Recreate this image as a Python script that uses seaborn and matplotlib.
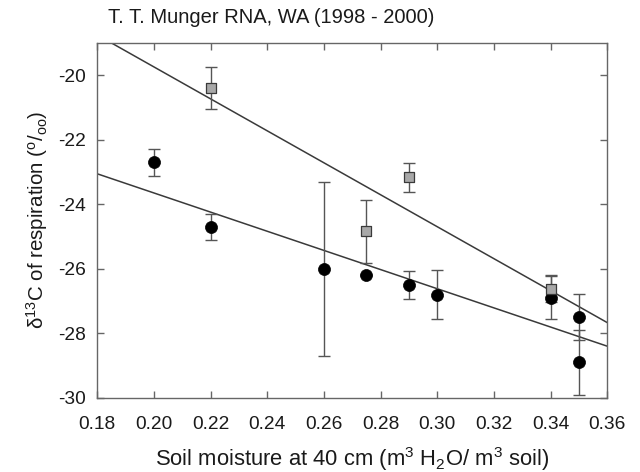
import numpy as np
import pandas as pd
import matplotlib
matplotlib.use('Agg')
import matplotlib.pyplot as plt
import seaborn as sns

# soil-respired d13C vs soil moisture, T. T. Munger RNA
circ_x = [0.20, 0.22, 0.26, 0.275, 0.29, 0.30, 0.34, 0.35, 0.35]
circ_y = [-22.7, -24.7, -26.0, -26.2, -26.5, -26.8, -26.9, -27.5, -28.9]
circ_err = [0.42, 0.40, 2.7, 0.0, 0.43, 0.75, 0.67, 0.72, 1.0]

sq_x = [0.22, 0.275, 0.29, 0.34]
sq_y = [-20.4, -24.84, -23.17, -26.62]
sq_err = [0.65, 0.98, 0.46, 0.42]

# fitted lines (end points)
fit_x = [0.18, 0.36]
fit_upper = [-18.76, -27.67]
fit_lower = [-23.06, -28.40]

sns.set_style('ticks')
plt.rcParams['font.family'] = ['Liberation Sans', 'DejaVu Sans']
plt.rcParams['mathtext.fontset'] = 'custom'
plt.rcParams['mathtext.rm'] = 'Liberation Sans'
plt.rcParams['mathtext.it'] = 'Liberation Sans'
plt.rcParams['axes.unicode_minus'] = False

f, ax = plt.subplots(figsize=(6.4, 4.72), dpi=100)
f.subplots_adjust(left=0.152, right=0.949, top=0.9095, bottom=0.157)

lines = pd.DataFrame({'x': fit_x * 2,
                      'y': fit_upper + fit_lower,
                      'fit': ['upper'] * 2 + ['lower'] * 2})
sns.lineplot(x='x', y='y', units='fit', estimator=None, data=lines, ax=ax,
             color='#3a3a3a', linewidth=1.1)

# error bars
ax.errorbar(circ_x, circ_y, yerr=circ_err, fmt='none', ecolor='#555555',
            elinewidth=1.0, capsize=4, capthick=1.0, zorder=2)
ax.errorbar(sq_x, sq_y, yerr=sq_err, fmt='none', ecolor='#555555',
            elinewidth=1.0, capsize=4, capthick=1.0, zorder=2)

# points
sns.scatterplot(x=circ_x, y=circ_y, ax=ax, marker='o', s=75, color='black',
                edgecolor='black', linewidth=0.5, zorder=3)
sns.scatterplot(x=sq_x, y=sq_y, ax=ax, marker='s', s=48, color='#a8a8a8',
                edgecolor='#3a3a3a', linewidth=0.9, zorder=4)

ax.set_xlim(0.18, 0.36)
ax.set_ylim(-30, -19)
ax.set_xticks(np.arange(0.18, 0.3601, 0.02))
ax.set_xticklabels(['%.2f' % v for v in np.arange(0.18, 0.3601, 0.02)])
ax.set_yticks(np.arange(-30, -19, 2))

for s in ax.spines.values():
    s.set_color('#666666')
    s.set_linewidth(1.0)
ax.tick_params(direction='in', length=5, width=1.0, color='#666666',
               labelsize=13.8, labelcolor='#1a1a1a', top=True, right=True)
ax.tick_params(axis='x', pad=13)
ax.tick_params(axis='y', pad=8)

ax.set_xlabel('Soil moisture at 40 cm (m$^{3}$ H$_{2}$O/ m$^{3}$ soil)',
              fontsize=15.8, color='#1a1a1a', labelpad=9)
ax.set_ylabel(r'δ$^{13}$C of respiration ($^{\mathrm{o}}$/$_{\mathrm{oo}}$)',
              fontsize=14.8, color='#1a1a1a', labelpad=6)
f.text(0.168, 0.962, 'T. T. Munger RNA, WA (1998 - 2000)', fontsize=14.5,
       color='#1a1a1a', va='center', ha='left')

f.savefig('out.png', dpi=100)
